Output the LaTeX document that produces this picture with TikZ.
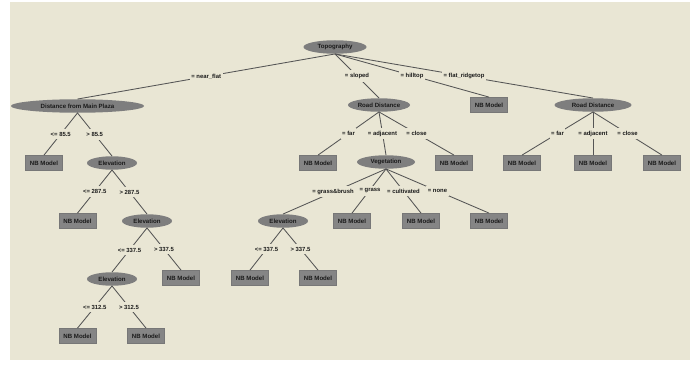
\documentclass[tikz,border=0pt]{standalone}
\usepackage{fontspec}
\setmainfont{Liberation Sans}
\usetikzlibrary{shapes.geometric}
\definecolor{bg}{HTML}{E9E6D4}
\definecolor{nodegray}{HTML}{7E7E7E}
\definecolor{boxgray}{HTML}{858585}
\definecolor{edgegray}{HTML}{555555}
\definecolor{txt}{HTML}{1A1A1A}
\tikzset{
  tnode/.style={ellipse, fill=nodegray, inner sep=0pt, minimum height=13.5, text=txt, font=\fontsize{6.1}{7}\selectfont\bfseries},
  leafbox/.style={rectangle, fill=boxgray, draw=edgegray!80, line width=0.8pt, inner sep=0pt, minimum width=37, minimum height=15, text=txt, font=\fontsize{6.1}{7}\selectfont\bfseries},
  lbl/.style={fill=bg, inner xsep=1.6pt, inner ysep=3pt, text=txt, font=\fontsize{5.9}{7}\selectfont\bfseries},
  edge/.style={draw=edgegray, line width=0.85pt},
}
\begin{document}
\begin{tikzpicture}[x=1pt,y=-1pt]
\useasboundingbox (0,0) rectangle (690,369);
\fill[white] (0,0) rectangle (690,369);
\fill[bg] (10,2) rectangle (690,360);
% nodes
\node[tnode, minimum width=63] (topo) at (335,47) {Topography};
\node[tnode, minimum width=133] (dist) at (77.5,106) {Distance from Main Plaza};
\node[tnode, minimum width=62] (rd1) at (379,105) {Road Distance};
\node[leafbox] (nbh) at (489,105) {NB Model};
\node[tnode, minimum width=77] (rd2) at (593,105) {Road Distance};
\node[leafbox] (nb1) at (44,163) {NB Model};
\node[tnode, minimum width=50] (el1) at (112,163) {Elevation};
\node[leafbox] (nb2) at (77.5,221) {NB Model};
\node[tnode, minimum width=50] (el2) at (147,221) {Elevation};
\node[tnode, minimum width=50] (el3) at (112,279) {Elevation};
\node[leafbox] (nb3) at (181,278) {NB Model};
\node[leafbox] (nb4) at (77.5,336) {NB Model};
\node[leafbox] (nb5) at (146,336) {NB Model};
\node[leafbox] (nbf) at (318,163) {NB Model};
\node[tnode, minimum width=58] (veg) at (386,162) {Vegetation};
\node[leafbox] (nbc) at (454,163) {NB Model};
\node[leafbox] (nbr1) at (522,163) {NB Model};
\node[leafbox] (nbr2) at (593,163) {NB Model};
\node[leafbox] (nbr3) at (662,163) {NB Model};
\node[tnode, minimum width=50] (el4) at (283,221) {Elevation};
\node[leafbox] (nbg) at (352,221) {NB Model};
\node[leafbox] (nbcu) at (421,221) {NB Model};
\node[leafbox] (nbn) at (489,221) {NB Model};
\node[leafbox] (nb6) at (250,278) {NB Model};
\node[leafbox] (nb7) at (318,278) {NB Model};
% edges
\path[edge] (topo.south) -- node[lbl]{= near\_flat} (dist.north);
\path[edge] (topo.south) -- node[lbl]{= sloped} (rd1.north);
\path[edge] (topo.south) -- node[lbl]{= hilltop} (nbh.north);
\path[edge] (topo.south) -- node[lbl]{= flat\_ridgetop} (rd2.north);
\path[edge] (dist.south) -- node[lbl]{<= 85.5} (nb1.north);
\path[edge] (dist.south) -- node[lbl]{> 85.5} (el1.north);
\path[edge] (el1.south) -- node[lbl]{<= 287.5} (nb2.north);
\path[edge] (el1.south) -- node[lbl]{> 287.5} (el2.north);
\path[edge] (el2.south) -- node[lbl]{<= 337.5} (el3.north);
\path[edge] (el2.south) -- node[lbl]{> 337.5} (nb3.north);
\path[edge] (el3.south) -- node[lbl]{<= 312.5} (nb4.north);
\path[edge] (el3.south) -- node[lbl]{> 312.5} (nb5.north);
\path[edge] (rd1.south) -- node[lbl]{= far} (nbf.north);
\path[edge] (rd1.south) -- node[lbl]{= adjacent} (veg.north);
\path[edge] (rd1.south) -- node[lbl]{= close} (nbc.north);
\path[edge] (rd2.south) -- node[lbl]{= far} (nbr1.north);
\path[edge] (rd2.south) -- node[lbl]{= adjacent} (nbr2.north);
\path[edge] (rd2.south) -- node[lbl]{= close} (nbr3.north);
\path[edge] (veg.south) -- node[lbl, xshift=-1.5pt]{= grass\&brush} (el4.north);
\path[edge] (veg.south) -- node[lbl, xshift=1pt]{= grass} (nbg.north);
\path[edge] (veg.south) -- node[lbl]{= cultivated} (nbcu.north);
\path[edge] (veg.south) -- node[lbl]{= none} (nbn.north);
\path[edge] (el4.south) -- node[lbl]{<= 337.5} (nb6.north);
\path[edge] (el4.south) -- node[lbl]{> 337.5} (nb7.north);
\end{tikzpicture}
\end{document}
